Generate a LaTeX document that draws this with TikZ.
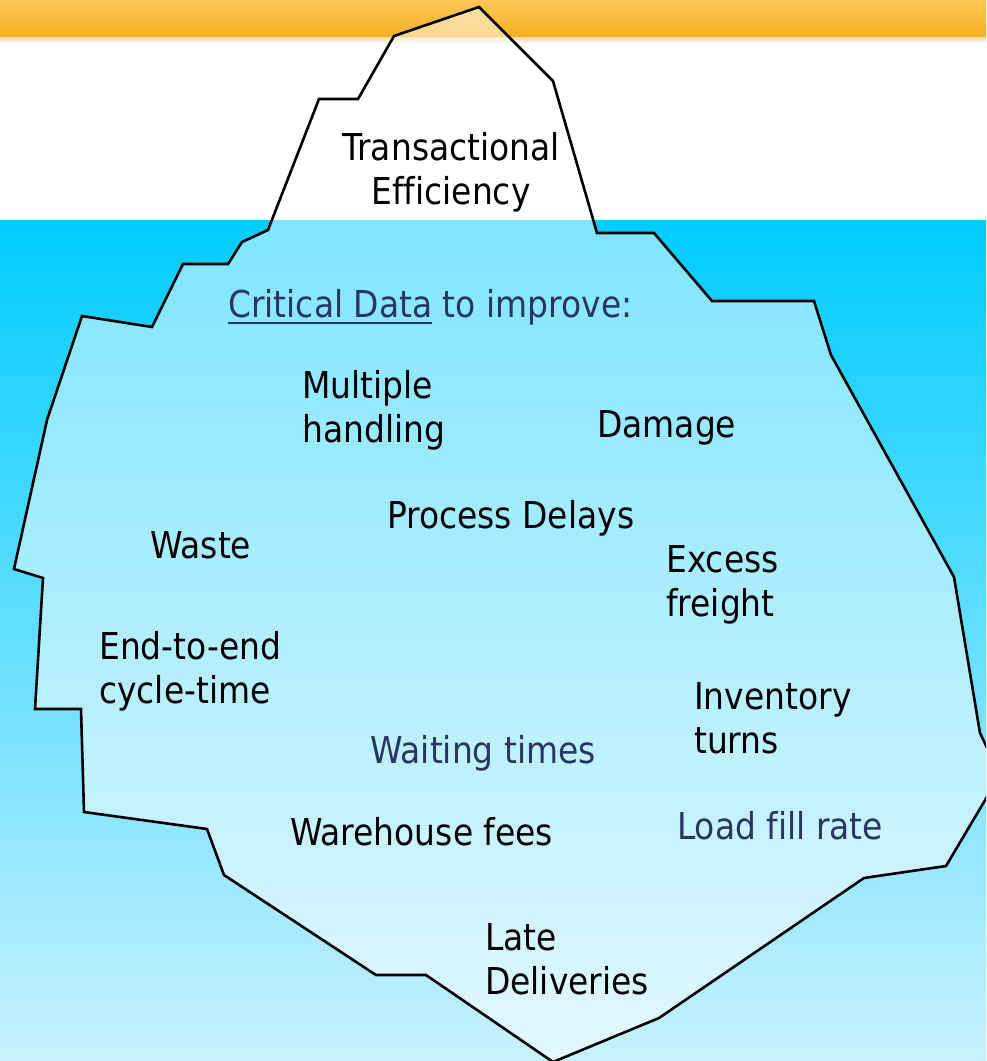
\documentclass[tikz,border=0pt]{standalone}
\usepackage{fontspec}
\setmainfont{DejaVu Sans}[FakeStretch=0.89,Ligatures=CommonOff]
\definecolor{barTop}{RGB}{254,199,84}
\definecolor{barBottom}{RGB}{246,175,35}
\definecolor{seaTop}{RGB}{0,204,255}
\definecolor{seaBottom}{RGB}{200,241,255}
\definecolor{navy}{RGB}{40,55,98}
\newcommand\barunder[1]{\leavevmode\setbox0\hbox{#1}\rlap{\rule[-7pt]{\wd0}{2pt}}\box0\relax}
\tikzset{
  label/.style={anchor=base west, inner sep=0pt, align=left, text=black,
    font=\fontsize{37}{44}\selectfont},
  blue label/.style={label, text=navy},
  berg/.style={fill=white, fill opacity=0.5, draw=black, draw opacity=1,
    line width=2.6pt, line join=miter}
}
\begin{document}
\begin{tikzpicture}[x=1pt,y=-1pt]
\useasboundingbox (0,0) rectangle (986,1061);
% sky, sun band and sea
\fill[white] (0,0) rectangle (986,1061);
\shade[top color=barTop, bottom color=barBottom] (0,0) rectangle (986,37);
\shade[top color=barBottom!45!white, bottom color=black!5] (0,37) rectangle (986,42);
\shade[top color=seaTop, bottom color=seaBottom] (0,220) rectangle (986,1061);
% the iceberg
\begin{scope}
\clip (0,0) rectangle (986,1061);
\path[berg] (479,7) -- (553,81) -- (597,233) -- (654,233) -- (712,301)
  -- (814,301) -- (831,355) -- (954,577) -- (980,733) -- (1000,775)
  -- (946,866) -- (864,878) -- (659,1018) -- (553,1062) -- (426,975)
  -- (376,975) -- (224,875) -- (207,829) -- (84,812) -- (81,709)
  -- (35,709) -- (43,578) -- (14,569) -- (47,420) -- (82,316)
  -- (152,327) -- (183,264) -- (228,264) -- (242,242) -- (268,230)
  -- (319,99) -- (358,99) -- (394,36) -- cycle;
\end{scope}
% labels (two-line labels are placed by the baseline of their last line)
\node[label, anchor=base, align=center] (tip) at (451,204) {Transactional\\Efficiency};
\node[blue label] (critical) at (228,317) {\barunder{Critical Data} to improve:};
\node[label] (multiple) at (302,442) {Multiple\\handling};
\node[label] (damage) at (597,437) {Damage};
\node[label] (process) at (387,528) {Process Delays};
\node[label] (waste) at (150,558) {Waste};
\node[label] (excess) at (666,616) {Excess\\freight};
\node[label] (cycle) at (99,703) {End-to-end\\cycle-time};
\node[label] (inventory) at (694,753) {Inventory\\turns};
\node[blue label] (waiting) at (370,763) {Waiting times};
\node[label] (warehouse) at (290,845) {Warehouse fees};
\node[blue label] (loadfill) at (677,839) {Load fill rate};
\node[label] (late) at (485,994) {Late\\Deliveries};
\end{tikzpicture}
\end{document}
